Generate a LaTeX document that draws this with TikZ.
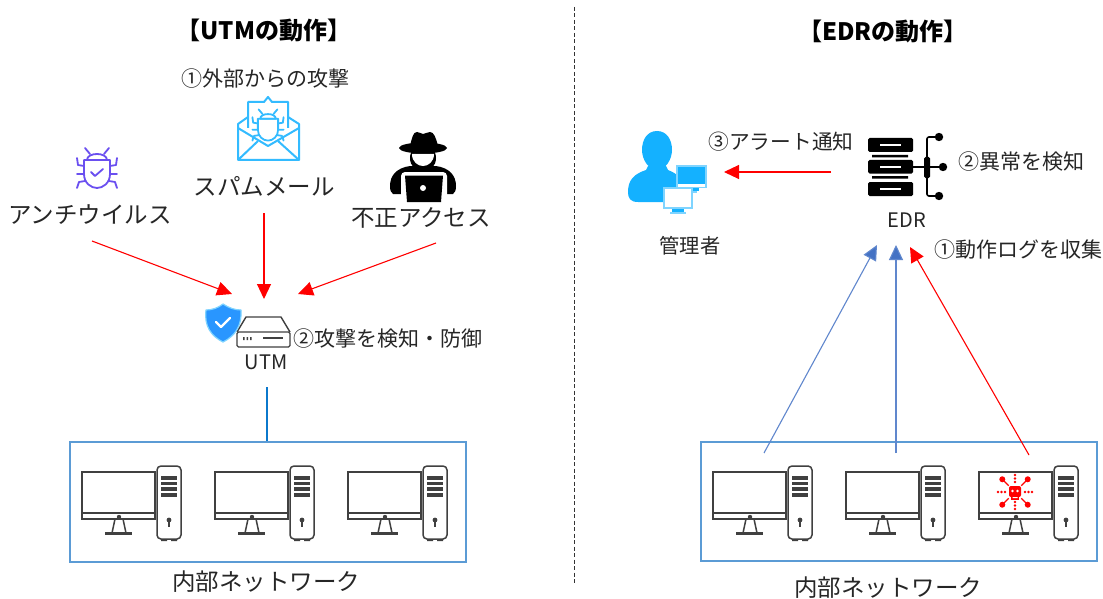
\documentclass[tikz,border=0pt]{standalone}
\usepackage{fontspec}
\setmainfont{Noto Sans CJK JP}
\usetikzlibrary{arrows.meta}
\definecolor{txt}{HTML}{262626}
\definecolor{netblue}{HTML}{5B9BD5}
\definecolor{linkblue}{HTML}{0B78CC}
\definecolor{arrblue}{HTML}{4472C4}
\definecolor{cyanic}{HTML}{33BBFF}
\definecolor{adminb}{HTML}{14B1FF}
\definecolor{paleb}{HTML}{7FD4FF}
\definecolor{bugp}{HTML}{6A4FF0}
\definecolor{pcgray}{HTML}{404040}
\tikzset{
  lbl/.style={inner sep=0pt,text=txt,font=\fontsize{#1}{#1}\selectfont},
  lbl/.default=21,
  ttl/.style={inner sep=0pt,text=black,font=\fontsize{24}{24}\selectfont\bfseries},
  netbox/.style={draw=netblue,line width=1.5pt},
  redarrow/.style={draw=red,line width=1.1pt,-{Triangle[length=15pt,width=14pt,fill=red]}},
  bluearrow/.style={draw=arrblue!85!white,line width=1.1pt,-{Triangle[length=15pt,width=14pt,fill=arrblue]}},
  pics/pcicon/.style={code={
    \draw[pcgray,line width=1.5pt] (0,0) rectangle (73,47);
    \draw[pcgray,line width=1.5pt] (0,41) -- (73,41);
    \draw[pcgray,line width=1.5pt] (33,47) -- (30,61) (41,47) -- (44,61);
    \fill[pcgray] (23,60) rectangle (50,63);
    \fill[pcgray] (37,45) circle (2.2pt);
    \draw[pcgray,line width=1.5pt,rounded corners=4pt,fill=white] (75,-6) rectangle (99,67);
    \foreach \yy in {4,9.5,15,21}{\fill[pcgray] (79,\yy) rectangle (95,\yy+3.8);}
    \fill[pcgray] (87,48) circle (2.4pt);
    \draw[pcgray,line width=1.2pt] (87,48) -- (87,55);
    \fill[pcgray] (79,67) rectangle (85,69) (89,67) rectangle (95,69);
  }},
  pics/bugicon/.style={code={
    \draw[#1,line width=1.8pt,line cap=round,line join=round,fill=white]
      (-10,-8) .. controls (-10,-16) and (10,-16) .. (10,-8) -- (-10,-8);
    \draw[#1,line width=1.8pt,line cap=round,line join=round]
      (-13,-8) -- (13,-8) -- (13,6) .. controls (13,15) and (6,20) .. (0,20) .. controls (-6,20) and (-13,15) .. (-13,6) -- cycle;
    \draw[#1,line width=1.8pt,line cap=round,line join=round]
      (-7,-14) -- (-12,-20) (7,-14) -- (12,-20)
      (-13,-2) -- (-19,-3) -- (-20,-10) (13,-2) -- (19,-3) -- (20,-10)
      (-13,6) -- (-20,6) (13,6) -- (20,6)
      (-12,13) -- (-18,14) -- (-20,20) (12,13) -- (18,14) -- (20,20);
  }},
}
\begin{document}
\begin{tikzpicture}[x=1pt,y=-1pt]
\useasboundingbox (0,0) rectangle (1103,599);
\fill[white] (0,0) rectangle (1103,599);

% divider
\coordinate (divtop) at (574,7);
\coordinate (divbot) at (574,583);
\draw[black!80,line width=.9pt,dash pattern=on 4pt off 2.5pt] (divtop) -- (divbot);

% titles
\node[ttl] (utmtitle) at (264,30) {【UTMの動作】};
\node[ttl] (edrtitle) at (883,31) {【EDRの動作】};

% ---------- left side labels
\node[lbl=21] (attack) at (265,79) {①外部からの攻撃};
\node[lbl=23.5] (avlabel) at (90,215) {アンチウイルス};
\node[lbl=23.5] (spamlabel) at (264,186) {スパムメール};
\node[lbl=23.5] (fraudlabel) at (421,218) {不正アクセス};
\node[lbl=20] (utmlabel) at (266,362) {UTM};
\node[lbl=21] (detect) at (388,339) {②攻撃を検知・防御};
\node[lbl=23.5] (netl) at (266,582) {内部ネットワーク};

% bug icon
\pic at (97,168) {bugicon=bugp};
\draw[bugp,line width=1.8pt,line cap=round,line join=round] (91,172) -- (95,176) -- (103,169);

% mail icon
\begin{scope}[cyanic,line width=2pt,line join=round]
  \draw (248,128) -- (248,102) -- (264,102) -- (268,97) -- (272,102) -- (288,102) -- (288,128);
  \draw (248,117) -- (238,124) -- (238,160) -- (299,160) -- (299,124) -- (288,117);
  \draw (238,128) -- (268,146) -- (299,128);
  \draw (238,160) -- (258,141) (299,160) -- (278,141);
  \pic[scale=.78] at (268,125) {bugicon=cyanic};
\end{scope}

% hacker icon
\begin{scope}[black]
  \fill (410,166) .. controls (396,168) and (390,176) .. (390,186) .. controls (390,190) and (391,193) .. (393,194) -- (453,194) .. controls (455,193) and (456,190) .. (456,186) .. controls (456,176) and (450,168) .. (436,166) -- cycle;
  \fill (423,158) ellipse [x radius=13,y radius=14];
  \fill[white,rounded corners=4pt] (401,172) rectangle (447,206);
  \fill (405,175.5) -- (443,175.5) -- (441,202) -- (407,202) -- cycle;
  \fill[white] (423,188) circle (3pt);
  \fill[white] (412,154) -- (434,154) .. controls (434,162) and (428,166) .. (423,166) .. controls (418,166) and (412,162) .. (412,154) -- cycle;
  \fill (410,146) .. controls (412,138) and (413,132) .. (417,132) .. controls (420,132) and (421,134) .. (423,134) .. controls (425,134) and (427,132) .. (430,132) .. controls (434,132) and (436,138) .. (438,146) -- cycle;
  \fill (423,148) ellipse [x radius=24,y radius=5.5];
\end{scope}

% UTM icon
\begin{scope}[pcgray,line width=1.4pt,line join=round]
  \draw (237,332) -- (246,317) -- (281,317) -- (290,332);
  \draw[rounded corners=1.5pt] (237,332) rectangle (290,347);
  \draw (263,338) -- (283,338);
  \fill (243,337) rectangle (244.6,340) (246.5,337) rectangle (248.1,340) (250,337) rectangle (251.6,340);
\end{scope}
% shield
\draw[paleb,fill=cyanic!80!blue,line width=1.2pt,line join=round]
  (223,304) .. controls (229,308) and (235,310) .. (241,310) .. controls (242,326) and (235,336) .. (223,342)
  .. controls (211,336) and (204,326) .. (206,310) .. controls (212,310) and (218,308) .. (223,304) -- cycle;
\draw[white,line width=2.4pt,line cap=round,line join=round] (216,322) -- (221,327) -- (230,318);

% left arrows
\coordinate (avout) at (92,241);
\coordinate (spamout) at (264,213);
\coordinate (fraudout) at (436,243);
\coordinate (utmin1) at (232,294);
\coordinate (utmin2) at (264,299);
\coordinate (utmin3) at (298,294);
\draw[redarrow] (avout) -- (utmin1);
\draw[redarrow] (spamout) -- (utmin2);
\draw[redarrow] (fraudout) -- (utmin3);

% left network
\node[netbox,minimum width=396pt,minimum height=120pt,inner sep=0pt,anchor=north west] (leftnet) at (69,441) {};
\coordinate (utmdown) at (267,387);
\draw[linkblue,line width=1.2pt] (utmdown) -- (utmdown |- leftnet.north);
\pic at (82,472) {pcicon};
\pic at (215,472) {pcicon};
\pic at (348,472) {pcicon};

% ---------- right side labels
\node[lbl=20.7] (alert) at (781,142) {③アラート通知};
\node[lbl=21] (anomaly) at (1021,162) {②異常を検知};
\node[lbl=20] (edrlabel) at (907,220) {EDR};
\node[lbl=20.3] (adminlabel) at (690,246) {管理者};
\node[lbl=21] (collect) at (1018,250) {①動作ログを収集};
\node[lbl=23.5] (netr) at (888,588) {内部ネットワーク};

% admin icon
\begin{scope}
  \fill[adminb] (657,131) .. controls (667,131) and (672,140) .. (672,150) .. controls (672,160) and (665,170) .. (657,170) .. controls (649,170) and (642,160) .. (642,150) .. controls (642,140) and (647,131) .. (657,131) -- cycle;
  \fill[adminb] (648,166) -- (666,166) -- (668,170) .. controls (678,174) and (682,178) .. (682,190) -- (672,202) -- (638,202) .. controls (630,202) and (628,198) .. (628,192) .. controls (628,180) and (634,174) .. (646,170) -- cycle;
  \draw[paleb,fill=adminb,line width=1.4pt] (677,166) rectangle (706,187);
  \fill[white] (678,184) rectangle (705,187);
  \fill[adminb] (684,188) rectangle (699,191);
  \fill[paleb] (686,191) rectangle (697,193);
  \draw[paleb,fill=white,line width=1.4pt] (664,188) rectangle (692,208);
  \fill[adminb] (672,209) rectangle (684,212);
  \fill[paleb] (670,212) rectangle (686,213.5);
\end{scope}

% EDR icon
\begin{scope}[black]
  \foreach \yy/\hh in {138/14,160/13.5,182/14}{
    \fill[rounded corners=1.5pt] (868,\yy) rectangle (913,\yy+\hh);
    \fill[white] (880,\yy+\hh/2-1) rectangle (901,\yy+\hh/2+1);
  }
  \fill (872,155) rectangle (908,157.5) (872,176) rectangle (908,178.5);
  \draw[line width=1.6pt,rounded corners=2pt] (939,137) -- (927,137) -- (927,196) -- (939,196);
  \draw[line width=1.6pt] (913,167) -- (943,167);
  \fill[rounded corners=1.5pt] (924,157) rectangle (930,178);
  \fill (939,137) circle (4.2pt) (943,167) circle (4.2pt) (939,196) circle (4.2pt);
\end{scope}

% right network
\node[netbox,minimum width=396pt,minimum height=119pt,inner sep=0pt,anchor=north west] (rightnet) at (700,441) {};
\pic at (713,472) {pcicon};
\pic at (846,472) {pcicon};
\pic at (979,472) {pcicon};

% skull burst
\begin{scope}[shift={(1015,492)},red]
  \fill[rounded corners=2pt] (-6,-6) rectangle (6,5);
  \fill (-4,3) rectangle (4,8);
  \fill[white] (-2.5,-1) circle (1.4pt) (2.5,-1) circle (1.4pt) (-2.5,5) rectangle (2.5,6);
  \foreach \a in {45,135,225,315}{
    \draw[line width=1.2pt] (\a:9) -- (\a:18);
    \fill (\a:18) circle (3pt);
  }
  \foreach \a in {0,90,180,270}{
    \fill (\a:10) circle (1.4pt) (\a:13.5) circle (1.4pt) (\a:17) circle (1.4pt);
  }
\end{scope}

% right arrows
\coordinate (admintarget) at (724,172);
\coordinate (edrout) at (831,172);
\draw[redarrow] (edrout) -- (admintarget);
\coordinate (pca) at (764,453);
\coordinate (pcb) at (896,453);
\coordinate (pcc) at (1029,455);
\coordinate (edra) at (877,245);
\coordinate (edrb) at (896,245);
\coordinate (edrr) at (910,247);
\draw[bluearrow] (pca) -- (edra);
\draw[bluearrow] (pcb) -- (edrb);
\draw[redarrow] (pcc) -- (edrr);
\end{tikzpicture}
\end{document}
